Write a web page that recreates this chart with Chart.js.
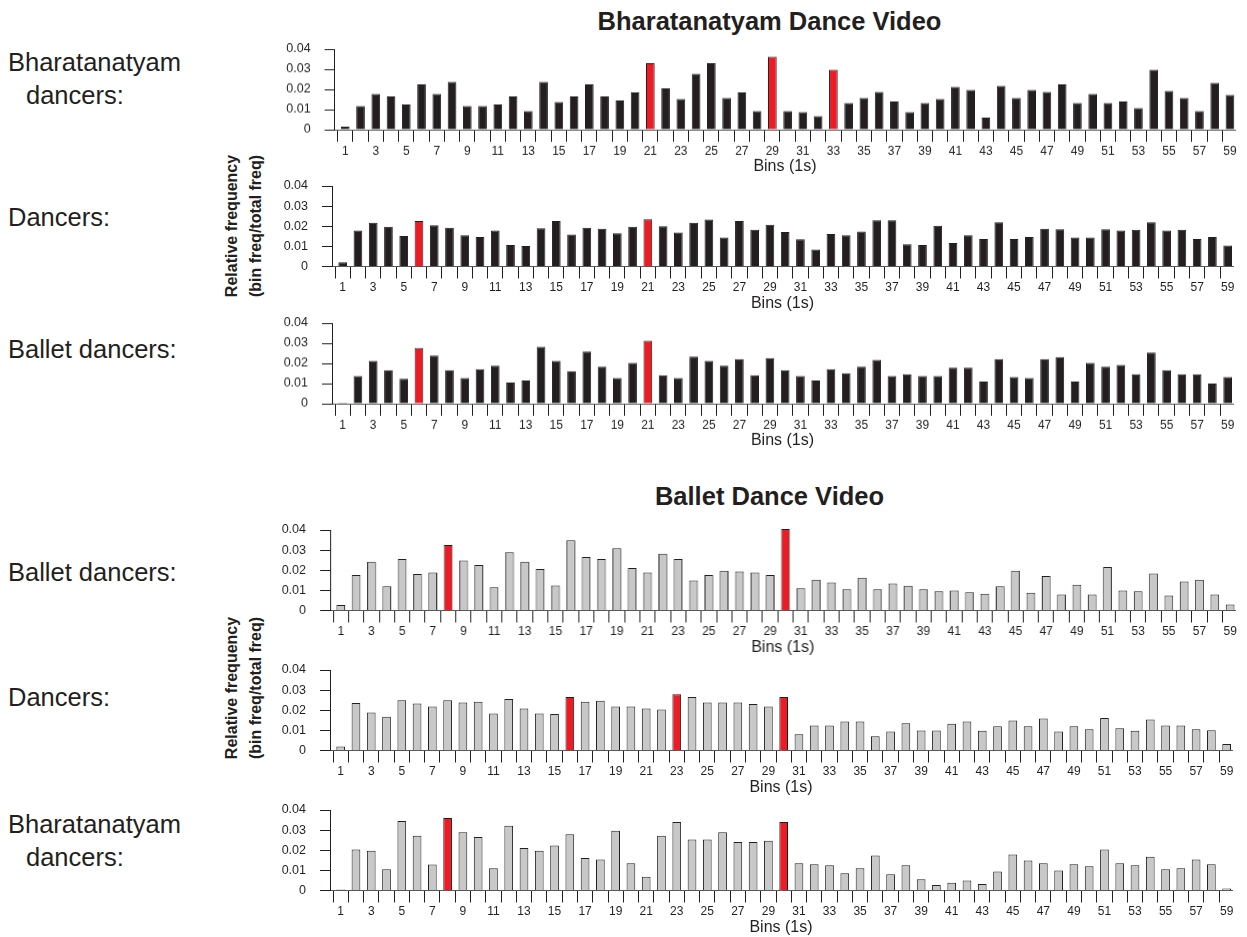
<!DOCTYPE html>
<html>
<head>
<meta charset="utf-8">
<script src="https://cdn.jsdelivr.net/npm/chart.js@4.4.1/dist/chart.umd.min.js"></script>
<style>
  body { margin: 0; width: 1247px; height: 937px; position: relative; overflow: hidden; background: #fff;
         font-family: "Liberation Sans", Arial, Helvetica, sans-serif; color: #231f20; }
  .panel { position: absolute; }
  .side { position: absolute; font-size: 25.5px; line-height: 1; white-space: pre; }
  .title { position: absolute; width: 1247px; text-align: center; font-weight: bold; font-size: 25.5px; line-height: 1; }
  .ylab { position: absolute; width: 220px; height: 48px; font-weight: bold; font-size: 16px; line-height: 24px;
          text-align: center; transform: rotate(-90deg); white-space: pre; }
</style>
</head>
<body>
<div class="title" style="left:146px;top:9px">Bharatanatyam Dance Video</div>
<div class="title" style="left:146px;top:484px">Ballet Dance Video</div>

<div class="side" style="left:8px;top:50px">Bharatanatyam</div>
<div class="side" style="left:26px;top:83px">dancers:</div>
<div class="side" style="left:8px;top:205px">Dancers:</div>
<div class="side" style="left:8px;top:337px">Ballet dancers:</div>
<div class="side" style="left:8px;top:560px">Ballet dancers:</div>
<div class="side" style="left:8px;top:685px">Dancers:</div>
<div class="side" style="left:8px;top:812px">Bharatanatyam</div>
<div class="side" style="left:26px;top:845px">dancers:</div>

<div class="ylab" style="left:134px;top:202px">Relative frequency
(bin freq/total freq)</div>
<div class="ylab" style="left:134px;top:664px">Relative frequency
(bin freq/total freq)</div>

<script>
// bins (1 s each) and the ones carrying a tick label
const bins = [1,2,3,4,5,6,7,8,9,10,11,12,13,14,15,16,17,18,19,20,
  21,22,23,24,25,26,27,28,29,30,31,32,33,34,35,36,37,38,39,40,
  41,42,43,44,45,46,47,48,49,50,51,52,53,54,55,56,57,58,59];
const labelledBins = [1,3,5,7,9,11,13,15,17,19,21,23,25,27,29,31,33,35,37,39,41,43,45,47,49,51,53,55,57,59];
const yTicks = [0, 0.01, 0.02, 0.03, 0.04];

// Bharatanatyam dance video
const bvBharatanatyam = [0.0015,0.0118,0.0178,0.0165,0.0125,0.0225,0.0178,0.0238,0.0118,0.0118,
  0.0125,0.0165,0.0093,0.0238,0.0138,0.0165,0.0225,0.0165,0.0145,0.0185,
  0.0330,0.0205,0.0152,0.0278,0.0330,0.0158,0.0185,0.0093,0.0363,0.0093,
  0.0087,0.0067,0.0297,0.0133,0.0158,0.0187,0.0140,0.0087,0.0133,0.0152,
  0.0212,0.0198,0.0060,0.0218,0.0158,0.0198,0.0187,0.0225,0.0133,0.0178,
  0.0133,0.0140,0.0107,0.0297,0.0192,0.0158,0.0093,0.0232,0.0172];
const bvDancers = [0.0021,0.0179,0.0218,0.0197,0.0152,0.0226,0.0205,0.0193,0.0155,0.0147,
  0.0179,0.0107,0.0102,0.0190,0.0226,0.0159,0.0193,0.0188,0.0165,0.0197,
  0.0235,0.0200,0.0169,0.0218,0.0233,0.0144,0.0226,0.0182,0.0208,0.0172,
  0.0136,0.0084,0.0162,0.0155,0.0174,0.0230,0.0230,0.0111,0.0107,0.0203,
  0.0117,0.0155,0.0137,0.0220,0.0137,0.0147,0.0188,0.0185,0.0144,0.0144,
  0.0185,0.0179,0.0182,0.0220,0.0179,0.0182,0.0137,0.0147,0.0104];
const bvBallet = [0.0005,0.0138,0.0212,0.0166,0.0124,0.0276,0.0239,0.0166,0.0128,0.0171,
  0.0189,0.0105,0.0115,0.0282,0.0212,0.0161,0.0259,0.0184,0.0128,0.0202,
  0.0312,0.0141,0.0128,0.0234,0.0212,0.0189,0.0221,0.0141,0.0226,0.0166,
  0.0138,0.0115,0.0171,0.0151,0.0184,0.0217,0.0138,0.0146,0.0138,0.0138,
  0.0179,0.0179,0.0110,0.0221,0.0133,0.0128,0.0221,0.0231,0.0110,0.0202,
  0.0184,0.0193,0.0146,0.0254,0.0166,0.0146,0.0146,0.0100,0.0133];

// Ballet dance video
const avBallet = [0.0027,0.0176,0.0242,0.0120,0.0256,0.0181,0.0189,0.0325,0.0249,0.0226,
  0.0116,0.0290,0.0242,0.0206,0.0124,0.0349,0.0266,0.0256,0.0309,0.0211,
  0.0189,0.0282,0.0256,0.0149,0.0176,0.0198,0.0194,0.0189,0.0176,0.0405,
  0.0110,0.0153,0.0139,0.0105,0.0163,0.0105,0.0134,0.0123,0.0105,0.0096,
  0.0100,0.0091,0.0083,0.0120,0.0198,0.0088,0.0171,0.0080,0.0128,0.0080,
  0.0216,0.0100,0.0096,0.0184,0.0075,0.0144,0.0153,0.0080,0.0030];
const avDancers = [0.0020,0.0236,0.0189,0.0168,0.0250,0.0234,0.0219,0.0250,0.0239,0.0242,
  0.0184,0.0256,0.0209,0.0184,0.0181,0.0266,0.0242,0.0247,0.0219,0.0219,
  0.0209,0.0204,0.0279,0.0266,0.0239,0.0239,0.0239,0.0231,0.0219,0.0266,
  0.0081,0.0124,0.0124,0.0144,0.0144,0.0071,0.0095,0.0136,0.0100,0.0100,
  0.0133,0.0144,0.0098,0.0121,0.0149,0.0120,0.0159,0.0095,0.0121,0.0106,
  0.0161,0.0110,0.0098,0.0154,0.0124,0.0124,0.0105,0.0101,0.0032];
const avBharatanatyam = [0.0005,0.0204,0.0198,0.0105,0.0345,0.0272,0.0129,0.0360,0.0290,0.0266,
  0.0111,0.0322,0.0211,0.0198,0.0224,0.0279,0.0161,0.0154,0.0297,0.0136,
  0.0068,0.0272,0.0340,0.0254,0.0254,0.0290,0.0241,0.0241,0.0247,0.0340,
  0.0136,0.0131,0.0126,0.0086,0.0111,0.0174,0.0081,0.0126,0.0056,0.0027,
  0.0038,0.0050,0.0032,0.0095,0.0179,0.0149,0.0136,0.0100,0.0131,0.0120,
  0.0204,0.0136,0.0126,0.0168,0.0106,0.0111,0.0154,0.0131,0.0010];

// highlighted (red) bins per panel
const bvBharatanatyamRed = [21, 29, 33];
const bvDancersRed = [6, 21];
const bvBalletRed = [6, 21];
const avBalletRed = [8, 30];
const avDancersRed = [16, 23, 30];
const avBharatanatyamRed = [8, 30];

const INK = '#231f20';
const RED = '#ed1c24';
const DARK = '#231f20';
const GREY = '#c8c8c8';
const X_MIN = 0.3, X_MAX = 59.35;

Chart.defaults.font.family = '"Liberation Sans", Arial, Helvetica, sans-serif';
Chart.defaults.color = INK;

// panel boxes: y-axis line x, right end, top (0.04) and baseline (0)
const panels = [
  { values: bvBharatanatyam, red: bvBharatanatyamRed, fill: DARK, left: 334.6, right: 1235.3, top: 49, base: 129 },
  { values: bvDancers, red: bvDancersRed, fill: DARK, left: 332, right: 1233, top: 185.5, base: 266 },
  { values: bvBallet, red: bvBalletRed, fill: DARK, left: 332, right: 1233, top: 323, base: 403 },
  { values: avBallet, red: avBalletRed, fill: GREY, left: 330, right: 1234.5, top: 529.5, base: 610 },
  { values: avDancers, red: avDancersRed, fill: GREY, left: 330, right: 1232, top: 669.5, base: 750 },
  { values: avBharatanatyam, red: avBharatanatyamRed, fill: GREY, left: 330, right: 1232, top: 809.5, base: 890 }
];

const CANVAS_LEFT = 250, PAD_TOP = 10, PAD_RIGHT = 12, X_AXIS_H = 46.5;

panels.forEach(p => {
  const box = document.createElement('div');
  box.className = 'panel';
  box.style.left = CANVAS_LEFT + 'px';
  box.style.top = (p.top - PAD_TOP) + 'px';
  box.style.width = (p.right + PAD_RIGHT - CANVAS_LEFT) + 'px';
  box.style.height = (PAD_TOP + (p.base - p.top) + X_AXIS_H) + 'px';
  const cv = document.createElement('canvas');
  box.appendChild(cv);
  document.body.appendChild(box);

  const colors = bins.map(b => p.red.includes(b) ? RED : p.fill);
  new Chart(cv, {
    type: 'bar',
    data: {
      datasets: [{
        data: bins.map((b, i) => ({ x: b, y: p.values[i] })),
        backgroundColor: colors,
        borderColor: INK,
        borderWidth: 1,
        barPercentage: 0.57,
        categoryPercentage: 1,
        clip: false
      }]
    },
    options: {
      responsive: true,
      maintainAspectRatio: false,
      animation: false,
      layout: { padding: { top: PAD_TOP, right: PAD_RIGHT, left: 0, bottom: 0 } },
      plugins: { legend: { display: false }, tooltip: { enabled: false } },
      scales: {
        x: {
          type: 'linear', min: X_MIN, max: X_MAX, offset: false,
          border: { display: true, color: '#58595b', width: 1 },
          grid: { display: true, drawOnChartArea: false, drawTicks: true, tickLength: 12, color: INK, lineWidth: 1 },
          ticks: { stepSize: 1, autoSkip: false, maxRotation: 0, includeBounds: false, padding: 2,
                   font: { size: 12 }, color: INK,
                   callback: v => labelledBins.includes(v) ? String(v) : '' },
          title: { display: true, text: 'Bins (1s)', font: { size: 16 }, color: INK, padding: 0 },
          afterFit: s => { s.height = X_AXIS_H; }
        },
        y: {
          min: yTicks[0], max: yTicks[yTicks.length - 1],
          border: { display: true, color: INK, width: 1 },
          grid: { display: true, drawOnChartArea: false, drawTicks: true, tickLength: 10, color: INK },
          afterBuildTicks: s => { s.ticks = yTicks.map(v => ({ value: v })); },
          ticks: { padding: 14, autoSkip: false, font: { size: 12.5 }, color: INK,
                   callback: v => v === 0 ? '0' : v.toFixed(2) },
          afterFit: s => { s.width = p.left - CANVAS_LEFT; s.paddingTop = 0; s.paddingBottom = 0; }
        }
      }
    }
  });
});
</script>
</body>
</html>
